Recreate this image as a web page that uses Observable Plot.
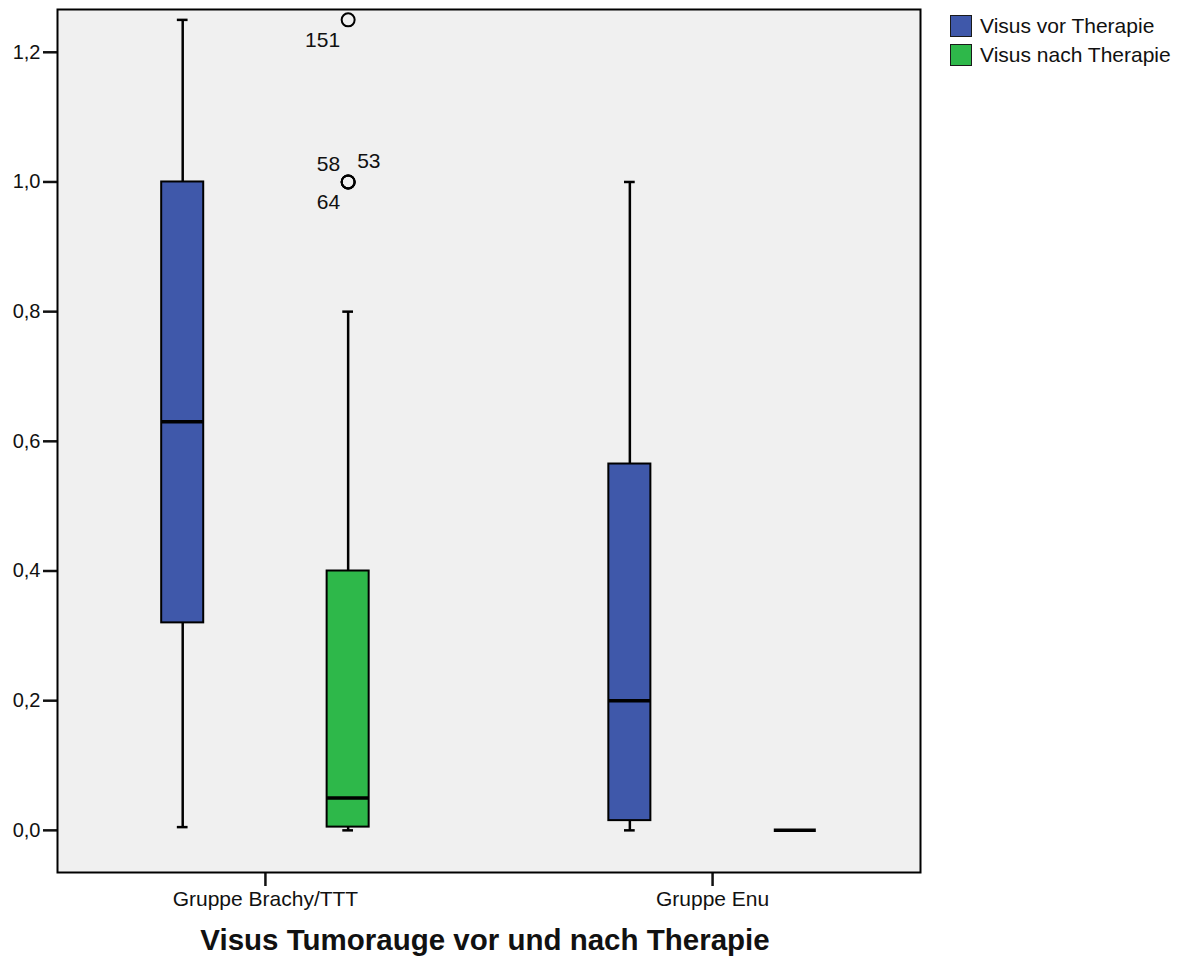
<!DOCTYPE html>
<html>
<head>
<meta charset="utf-8">
<script src="https://cdn.jsdelivr.net/npm/d3@7"></script>
<script src="https://cdn.jsdelivr.net/npm/@observablehq/plot@0.6"></script>
<style>
  html, body { margin: 0; padding: 0; background: #ffffff; }
  body { font-family: "Liberation Sans", Arial, sans-serif; }
  #wrap { position: relative; width: 1188px; height: 962px; }
  #legend { position: absolute; left: 950px; top: 11px; font-size: 21px; color: #111; }
  .item { display: flex; align-items: center; height: 29px; }
  .sw { width: 20px; height: 20px; border: 1.5px solid #1a1a1a; margin-right: 8px; box-sizing: content-box; }
  #title { position: absolute; left: 0; top: 923px; width: 970px; text-align: center; font-size: 29.5px; font-weight: bold; color: #111; }
</style>
</head>
<body>
<div id="wrap">
  <div id="chart"></div>
  <div id="legend"></div>
  <div id="title"></div>
</div>
<script>
// ---- data ----
const groups = ["Gruppe Brachy/TTT", "Gruppe Enu"];
const seriesNames = ["Visus vor Therapie", "Visus nach Therapie"];
const seriesColors = ["#3f58aa", "#2eb84a"];
const titleText = "Visus Tumorauge vor und nach Therapie";
const yTicks = [0, 0.2, 0.4, 0.6, 0.8, 1.0, 1.2];

// one entry per box: Brachy vor, Brachy nach, Enu vor, Enu nach
const boxGroup   = ["Gruppe Brachy/TTT", "Gruppe Brachy/TTT", "Gruppe Enu", "Gruppe Enu"];
const boxSeries  = ["Visus vor Therapie", "Visus nach Therapie", "Visus vor Therapie", "Visus nach Therapie"];
const whiskerLow = [0.005, 0.0, 0.0, 0.0];
const quart1     = [0.32, 0.005, 0.015, 0.0];
const medians    = [0.63, 0.05, 0.20, 0.0];
const quart3     = [1.00, 0.40, 0.565, 0.0];
const whiskerHigh= [1.25, 0.80, 1.00, 0.0];

// outliers
const outGroup  = ["Gruppe Brachy/TTT", "Gruppe Brachy/TTT", "Gruppe Brachy/TTT", "Gruppe Brachy/TTT"];
const outSeries = ["Visus nach Therapie", "Visus nach Therapie", "Visus nach Therapie", "Visus nach Therapie"];
const outValue  = [1.25, 1.0, 1.0, 1.0];
const outLabel  = ["151", "58", "53", "64"];
const outPlace  = ["lowerleft", "upperleft", "upperright", "lowerleft"];

// ---- build tables ----
const boxes = boxGroup.map((g, i) => ({
  g, s: boxSeries[i], low: whiskerLow[i], q1: quart1[i], med: medians[i], q3: quart3[i], high: whiskerHigh[i]
}));
const outliers = outValue.map((v, i) => ({ g: outGroup[i], s: outSeries[i], v, label: outLabel[i], place: outPlace[i] }));

// layout helpers (dodge within group)
const dodge = [-0.185, 0.185];
const halfBox = 0.047;
const halfCap = 0.012;
const xc = d => groups.indexOf(d.g) + dodge[seriesNames.indexOf(d.s)];

const fmt = v => v.toFixed(1).replace(".", ",");

const chart = Plot.plot({
  width: 1188,
  height: 915,
  marginLeft: 57,
  marginRight: 268,
  marginTop: 9,
  marginBottom: 43,
  style: { fontFamily: "'Liberation Sans', Arial, sans-serif", background: "white", color: "#111" },
  x: { type: "linear", domain: [-0.465, 1.465] },
  y: { domain: [-0.065, 1.266] },
  color: { domain: seriesNames, range: seriesColors },
  marks: [
    Plot.frame({ fill: "#f0f0f0" }),
    // whiskers
    Plot.ruleX(boxes.filter(d => d.high > d.q3), { x: xc, y1: "q3", y2: "high", stroke: "black", strokeWidth: 2.5 }),
    Plot.ruleX(boxes.filter(d => d.low < d.q1), { x: xc, y1: "low", y2: "q1", stroke: "black", strokeWidth: 2.5 }),
    Plot.ruleY(boxes.filter(d => d.high > d.q3), { y: "high", x1: d => xc(d) - halfCap, x2: d => xc(d) + halfCap, stroke: "black", strokeWidth: 2.5 }),
    Plot.ruleY(boxes.filter(d => d.low < d.q1), { y: "low", x1: d => xc(d) - halfCap, x2: d => xc(d) + halfCap, stroke: "black", strokeWidth: 2.5 }),
    // boxes
    Plot.rect(boxes.filter(d => d.q3 > d.q1), { x1: d => xc(d) - halfBox, x2: d => xc(d) + halfBox, y1: "q1", y2: "q3", fill: "s", stroke: "black", strokeWidth: 2 }),
    // medians
    Plot.ruleY(boxes, { y: "med", x1: d => xc(d) - halfBox, x2: d => xc(d) + halfBox, stroke: "black", strokeWidth: 3.5 }),
    // outliers
    Plot.dot(outliers, { x: xc, y: "v", r: 6.5, stroke: "black", strokeWidth: 2, fill: "none" }),
    Plot.text(outliers.filter(d => d.place === "lowerleft"), { x: xc, y: "v", text: "label", textAnchor: "end", dx: -8, dy: 20, fontSize: 21, fill: "#111" }),
    Plot.text(outliers.filter(d => d.place === "upperleft"), { x: xc, y: "v", text: "label", textAnchor: "end", dx: -8, dy: -18, fontSize: 21, fill: "#111" }),
    Plot.text(outliers.filter(d => d.place === "upperright"), { x: xc, y: "v", text: "label", textAnchor: "start", dx: 9, dy: -21, fontSize: 21, fill: "#111" }),
    // axes
    Plot.axisY({ ticks: yTicks, tickFormat: fmt, tickSize: 14, tickPadding: 3, fontSize: 20, strokeWidth: 2.5, label: null }),
    Plot.axisX({ ticks: [0, 1], tickFormat: i => groups[i], tickSize: 14, tickPadding: 5, fontSize: 21, strokeWidth: 2.5, label: null }),
    Plot.frame({ stroke: "black", strokeWidth: 2 })
  ]
});
document.getElementById("chart").appendChild(chart);

// legend
const legend = document.getElementById("legend");
seriesNames.forEach((name, i) => {
  const row = document.createElement("div");
  row.className = "item";
  const sw = document.createElement("div");
  sw.className = "sw";
  sw.style.background = seriesColors[i];
  const t = document.createElement("span");
  t.textContent = name;
  row.appendChild(sw);
  row.appendChild(t);
  legend.appendChild(row);
});
document.getElementById("title").textContent = titleText;
</script>
</body>
</html>
